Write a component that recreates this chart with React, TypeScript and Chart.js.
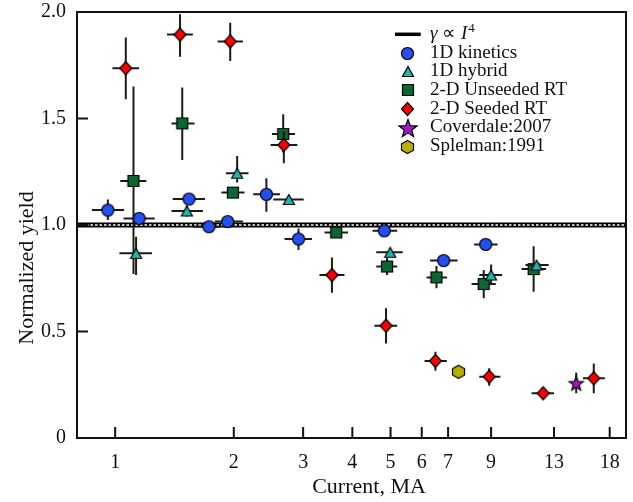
import React, { useEffect, useRef } from 'react';
import { Chart, registerables } from 'chart.js';

Chart.register(...registerables);

const FONT = '"Liberation Serif", "Times New Roman", Times, serif';

// Each row: [current, yield, currentLow, currentHigh, yieldLow, yieldHigh]
const kinetics1D = [
  [0.958, 1.07, 0.873, 1.054, 1.023, 1.12],
  [1.15, 1.031, 1.05, 1.26, 1.0, 1.06],
  [1.54, 1.122, 1.4, 1.69, 1.1, 1.14],
  [1.73, 0.992, 1.585, 1.85, 0.992, 0.992],
  [1.93, 1.016, 1.79, 2.11, 1.016, 1.016],
  [2.42, 1.144, 2.24, 2.62, 1.062, 1.219],
  [2.92, 0.934, 2.69, 3.16, 0.883, 0.984],
  [4.82, 0.973, 4.5, 5.2, 0.96, 0.985],
  [6.82, 0.833, 6.3, 7.4, 0.833, 0.833],
  [8.72, 0.909, 8.15, 9.35, 0.909, 0.909],
];
const hybrid1D = [
  [1.13, 0.867, 1.025, 1.24, 0.765, 0.945],
  [1.52, 1.066, 1.39, 1.67, 1.04, 1.09],
  [2.04, 1.243, 1.91, 2.18, 1.2, 1.324],
  [2.76, 1.12, 2.52, 3.01, 1.12, 1.12],
  [4.99, 0.872, 4.6, 5.37, 0.872, 0.872],
  [9.0, 0.765, 8.4, 9.6, 0.72, 0.815],
  [11.74, 0.812, 11.0, 12.6, 0.8, 0.82],
];
const unseeded2D = [
  [1.113, 1.207, 1.03, 1.2, 0.77, 1.65],
  [1.48, 1.477, 1.39, 1.59, 1.305, 1.646],
  [1.99, 1.152, 1.86, 2.13, 1.14, 1.16],
  [2.67, 1.427, 2.5, 2.86, 1.34, 1.52],
  [3.64, 0.965, 3.4, 3.9, 0.94, 0.98],
  [4.9, 0.805, 4.6, 5.2, 0.765, 0.845],
  [6.54, 0.754, 6.17, 6.96, 0.703, 0.807],
  [8.62, 0.723, 8.03, 9.25, 0.656, 0.789],
  [11.54, 0.793, 10.75, 12.4, 0.687, 0.9],
];
const seeded2D = [
  [1.064, 1.736, 0.984, 1.15, 1.59, 1.88],
  [1.461, 1.894, 1.354, 1.575, 1.79, 1.99],
  [1.959, 1.862, 1.82, 2.11, 1.77, 1.95],
  [2.68, 1.376, 2.48, 2.9, 1.29, 1.44],
  [3.55, 0.765, 3.3, 3.82, 0.682, 0.848],
  [4.87, 0.527, 4.55, 5.2, 0.444, 0.609],
  [6.5, 0.362, 6.1, 6.95, 0.316, 0.405],
  [8.9, 0.288, 8.4, 9.5, 0.245, 0.327],
  [12.2, 0.21, 11.4, 13.0, 0.195, 0.225],
  [16.4, 0.28, 15.4, 17.5, 0.21, 0.35],
];
const coverdale2007 = [[14.8, 0.257, 14.8, 14.8, 0.21, 0.307]];
const splelman1991 = [[7.44, 0.311, 7.44, 7.44, 0.311, 0.311]];
const modelLine = [
  [0.8, 1],
  [19.8, 1],
];

const xTicks = [1, 2, 3, 4, 5, 6, 7, 9, 13, 18];
const xTickLabels = ['1', '2', '3', '4', '5', '6', '7', '9', '13', '18'];
const yTicks = [0, 0.5, 1, 1.5, 2];
const yTickLabels = ['0', '0.5', '1.0', '1.5', '2.0'];
const xRange = [0.8, 19.8];
const yRange = [0, 2];

type Shape = 'circle' | 'triangle' | 'square' | 'diamond' | 'star' | 'hexagon';

function makeMarker(shape: Shape, fill: string, w: number, h: number): HTMLCanvasElement {
  const c = document.createElement('canvas');
  c.width = Math.ceil(w + 3);
  c.height = Math.ceil(h + 3);
  const ctx = c.getContext('2d')!;
  const cx = c.width / 2;
  const cy = c.height / 2;
  ctx.beginPath();
  if (shape === 'circle') {
    ctx.ellipse(cx, cy, w / 2, h / 2, 0, 0, Math.PI * 2);
  } else if (shape === 'triangle') {
    ctx.moveTo(cx, cy - h / 2);
    ctx.lineTo(cx + w / 2, cy + h / 2);
    ctx.lineTo(cx - w / 2, cy + h / 2);
    ctx.closePath();
  } else if (shape === 'square') {
    ctx.rect(cx - w / 2, cy - h / 2, w, h);
  } else if (shape === 'diamond') {
    ctx.moveTo(cx, cy - h / 2);
    ctx.lineTo(cx + w / 2, cy);
    ctx.lineTo(cx, cy + h / 2);
    ctx.lineTo(cx - w / 2, cy);
    ctx.closePath();
  } else if (shape === 'star') {
    const R = w / 2;
    const r = R * 0.42;
    const oy = cy + R * 0.09;
    for (let i = 0; i < 10; i++) {
      const a = -Math.PI / 2 + (i * Math.PI) / 5;
      const rad = i % 2 === 0 ? R : r;
      const px = cx + rad * Math.cos(a);
      const py = oy + rad * Math.sin(a);
      if (i === 0) ctx.moveTo(px, py);
      else ctx.lineTo(px, py);
    }
    ctx.closePath();
  } else if (shape === 'hexagon') {
    for (let i = 0; i < 6; i++) {
      const a = -Math.PI / 2 + (i * Math.PI) / 3;
      const px = cx + (w / 2) * Math.cos(a) / Math.cos(Math.PI / 6);
      const py = cy + (h / 2) * Math.sin(a);
      if (i === 0) ctx.moveTo(px, py);
      else ctx.lineTo(px, py);
    }
    ctx.closePath();
  }
  ctx.fillStyle = fill;
  ctx.fill();
  ctx.lineWidth = 1.2;
  ctx.strokeStyle = '#000';
  ctx.stroke();
  return c;
}

const toPoints = (rows: number[][]) => rows.map((r) => ({ x: r[0], y: r[1] }));

const framePlugin = {
  id: 'paperFrame',
  beforeDatasetDraw(chart: any, args: any) {
    const ds = chart.data.datasets[args.index];
    const rows: number[][] | undefined = ds.errorRows;
    if (!rows) return;
    const { ctx, chartArea: ca } = chart;
    const xs = chart.scales.x;
    const ys = chart.scales.y;
    ctx.save();
    ctx.beginPath();
    ctx.rect(ca.left, ca.top, ca.right - ca.left, ca.bottom - ca.top);
    ctx.clip();
    ctx.strokeStyle = '#1c1c14';
    ctx.lineWidth = 2;
    ctx.beginPath();
    rows.forEach((r) => {
      const px = xs.getPixelForValue(r[0]);
      const py = ys.getPixelForValue(r[1]);
      if (r[2] !== r[3]) {
        ctx.moveTo(xs.getPixelForValue(r[2]), py);
        ctx.lineTo(xs.getPixelForValue(r[3]), py);
      }
      if (r[4] !== r[5]) {
        ctx.moveTo(px, ys.getPixelForValue(r[4]));
        ctx.lineTo(px, ys.getPixelForValue(r[5]));
      }
    });
    ctx.stroke();
    ctx.restore();
  },
  afterDatasetDraw(chart: any, args: any) {
    const ds = chart.data.datasets[args.index];
    if (!ds.isModel) return;
    const { ctx, chartArea: ca } = chart;
    const xs = chart.scales.x;
    const ys = chart.scales.y;
    const p0 = { x: xs.getPixelForValue(ds.data[0].x), y: ys.getPixelForValue(ds.data[0].y) };
    const p1 = { x: xs.getPixelForValue(ds.data[1].x), y: ys.getPixelForValue(ds.data[1].y) };
    ctx.save();
    ctx.beginPath();
    ctx.rect(ca.left, ca.top, ca.right - ca.left, ca.bottom - ca.top);
    ctx.clip();
    ctx.strokeStyle = '#fff';
    ctx.lineWidth = 1.4;
    ctx.setLineDash([2.5, 2]);
    ctx.beginPath();
    ctx.moveTo(p0.x, p0.y);
    ctx.lineTo(p1.x, p1.y);
    ctx.stroke();
    ctx.restore();
  },
  afterDraw(chart: any) {
    const { ctx, chartArea: ca } = chart;
    const xs = chart.scales.x;
    const ys = chart.scales.y;
    ctx.save();
    // frame
    ctx.strokeStyle = '#111';
    ctx.lineWidth = 2;
    ctx.strokeRect(ca.left, ca.top, ca.right - ca.left, ca.bottom - ca.top);
    // inward ticks
    ctx.beginPath();
    xTicks.forEach((v) => {
      const px = xs.getPixelForValue(v);
      ctx.moveTo(px, ca.bottom);
      ctx.lineTo(px, ca.bottom - 11);
    });
    yTicks.forEach((v) => {
      const py = ys.getPixelForValue(v);
      ctx.moveTo(ca.left, py);
      ctx.lineTo(ca.left + 11, py);
    });
    ctx.stroke();

    // axis titles
    ctx.fillStyle = '#111';
    ctx.font = `22px ${FONT}`;
    ctx.textAlign = 'center';
    ctx.textBaseline = 'alphabetic';
    ctx.fillText('Current, MA', ca.left + 292, ca.bottom + 55);
    ctx.save();
    ctx.translate(ca.left - 44, ca.top + 256);
    ctx.rotate(-Math.PI / 2);
    ctx.fillText('Normalized yield', 0, 0);
    ctx.restore();

    // legend
    const mx = ca.left + 330.7;
    const tx = ca.left + 353;
    const y0 = ca.top + 22.3;
    const step = 18.7;
    ctx.textAlign = 'left';
    chart.data.datasets.forEach((ds: any, i: number) => {
      const ry = y0 + i * step;
      const by = ry + 4.5;
      if (ds.isModel) {
        ctx.strokeStyle = '#000';
        ctx.lineWidth = 3.5;
        ctx.beginPath();
        ctx.moveTo(mx - 12.7, ry);
        ctx.lineTo(mx + 13, ry);
        ctx.stroke();
        let cx = tx;
        const parts: [string, string, number][] = [
          ['γ', 'italic 19px', 0],
          [' ∝ ', '19px', 0],
          ['I', 'italic 19px', 0],
          ['4', '13px', -7],
        ];
        parts.forEach(([t, f, dy]) => {
          ctx.font = `${f} ${FONT}`;
          ctx.fillText(t, cx, by + dy);
          cx += ctx.measureText(t).width + (t === 'I' ? 1 : 0);
        });
      } else {
        const img: HTMLCanvasElement = ds.legendMarker;
        ctx.drawImage(img, Math.round(mx - img.width / 2), Math.round(ry - img.height / 2));
        ctx.font = `19px ${FONT}`;
        ctx.fillText(ds.label, tx, by);
      }
    });
    ctx.restore();
  },
};

export default function App() {
  const ref = useRef<HTMLCanvasElement | null>(null);

  useEffect(() => {
    if (!ref.current) return;
    const mk = {
      circle: makeMarker('circle', '#2350f2', 12, 12),
      triangle: makeMarker('triangle', '#1fb3ae', 11, 10),
      square: makeMarker('square', '#0b6632', 11, 11),
      diamond: makeMarker('diamond', '#ff0000', 12, 13),
      star: makeMarker('star', '#a01cc0', 15, 15),
      hexagon: makeMarker('hexagon', '#b8b000', 12, 13),
      starLegend: makeMarker('star', '#a01cc0', 19, 19),
    };

    const scatterDs = (label: string, rows: number[][], marker: HTMLCanvasElement, order: number, legendMarker?: HTMLCanvasElement) => ({
      label,
      data: toPoints(rows),
      errorRows: rows,
      pointStyle: marker,
      legendMarker: legendMarker || marker,
      pointRadius: 6,
      order,
      showLine: false,
    });

    const chart = new Chart(ref.current, {
      type: 'scatter',
      data: {
        datasets: [
          {
            label: 'γ ∝ I^4',
            data: modelLine.map((p) => ({ x: p[0], y: p[1] })),
            isModel: true,
            showLine: true,
            borderColor: '#000',
            borderWidth: 5,
            pointRadius: 0,
            order: 10,
          } as any,
          scatterDs('1D kinetics', kinetics1D, mk.circle, 5),
          scatterDs('1D hybrid', hybrid1D, mk.triangle, 3),
          scatterDs('2-D Unseeded RT', unseeded2D, mk.square, 4),
          scatterDs('2-D Seeded RT', seeded2D, mk.diamond, 2),
          scatterDs('Coverdale:2007', coverdale2007, mk.star, 1, mk.starLegend),
          scatterDs('Splelman:1991', splelman1991, mk.hexagon, 1),
        ],
      },
      options: {
        animation: false,
        responsive: true,
        maintainAspectRatio: false,
        layout: { padding: { top: 12, right: 6, left: 0, bottom: 0 } },
        plugins: {
          legend: { display: false },
          tooltip: { enabled: false },
        },
        scales: {
          x: {
            type: 'logarithmic',
            min: xRange[0],
            max: xRange[1],
            grid: { display: false, drawTicks: false },
            border: { display: false },
            afterBuildTicks: (scale: any) => {
              scale.ticks = xTicks.map((v) => ({ value: v }));
            },
            afterFit: (scale: any) => {
              scale.height = 64;
              scale.paddingLeft = 0;
              scale.paddingRight = 0;
            },
            ticks: {
              autoSkip: false,
              maxRotation: 0,
              padding: 13,
              color: '#111',
              font: { family: FONT, size: 20 },
              callback: (_v: any, i: number) => xTickLabels[i],
            },
          },
          y: {
            type: 'linear',
            min: yRange[0],
            max: yRange[1],
            grid: { display: false, drawTicks: false },
            border: { display: false },
            afterBuildTicks: (scale: any) => {
              scale.ticks = yTicks.map((v) => ({ value: v }));
            },
            afterFit: (scale: any) => {
              scale.width = 77;
              scale.paddingTop = 0;
              scale.paddingBottom = 0;
            },
            ticks: {
              autoSkip: false,
              padding: 11,
              color: '#111',
              font: { family: FONT, size: 20 },
              callback: (_v: any, i: number) => yTickLabels[i],
            },
          },
        },
      } as any,
      plugins: [framePlugin],
    });
    return () => chart.destroy();
  }, []);

  return (
    <div style={{ position: 'fixed', left: 0, top: 0, width: 633, height: 502, background: '#fff' }}>
      <canvas ref={ref} />
    </div>
  );
}
